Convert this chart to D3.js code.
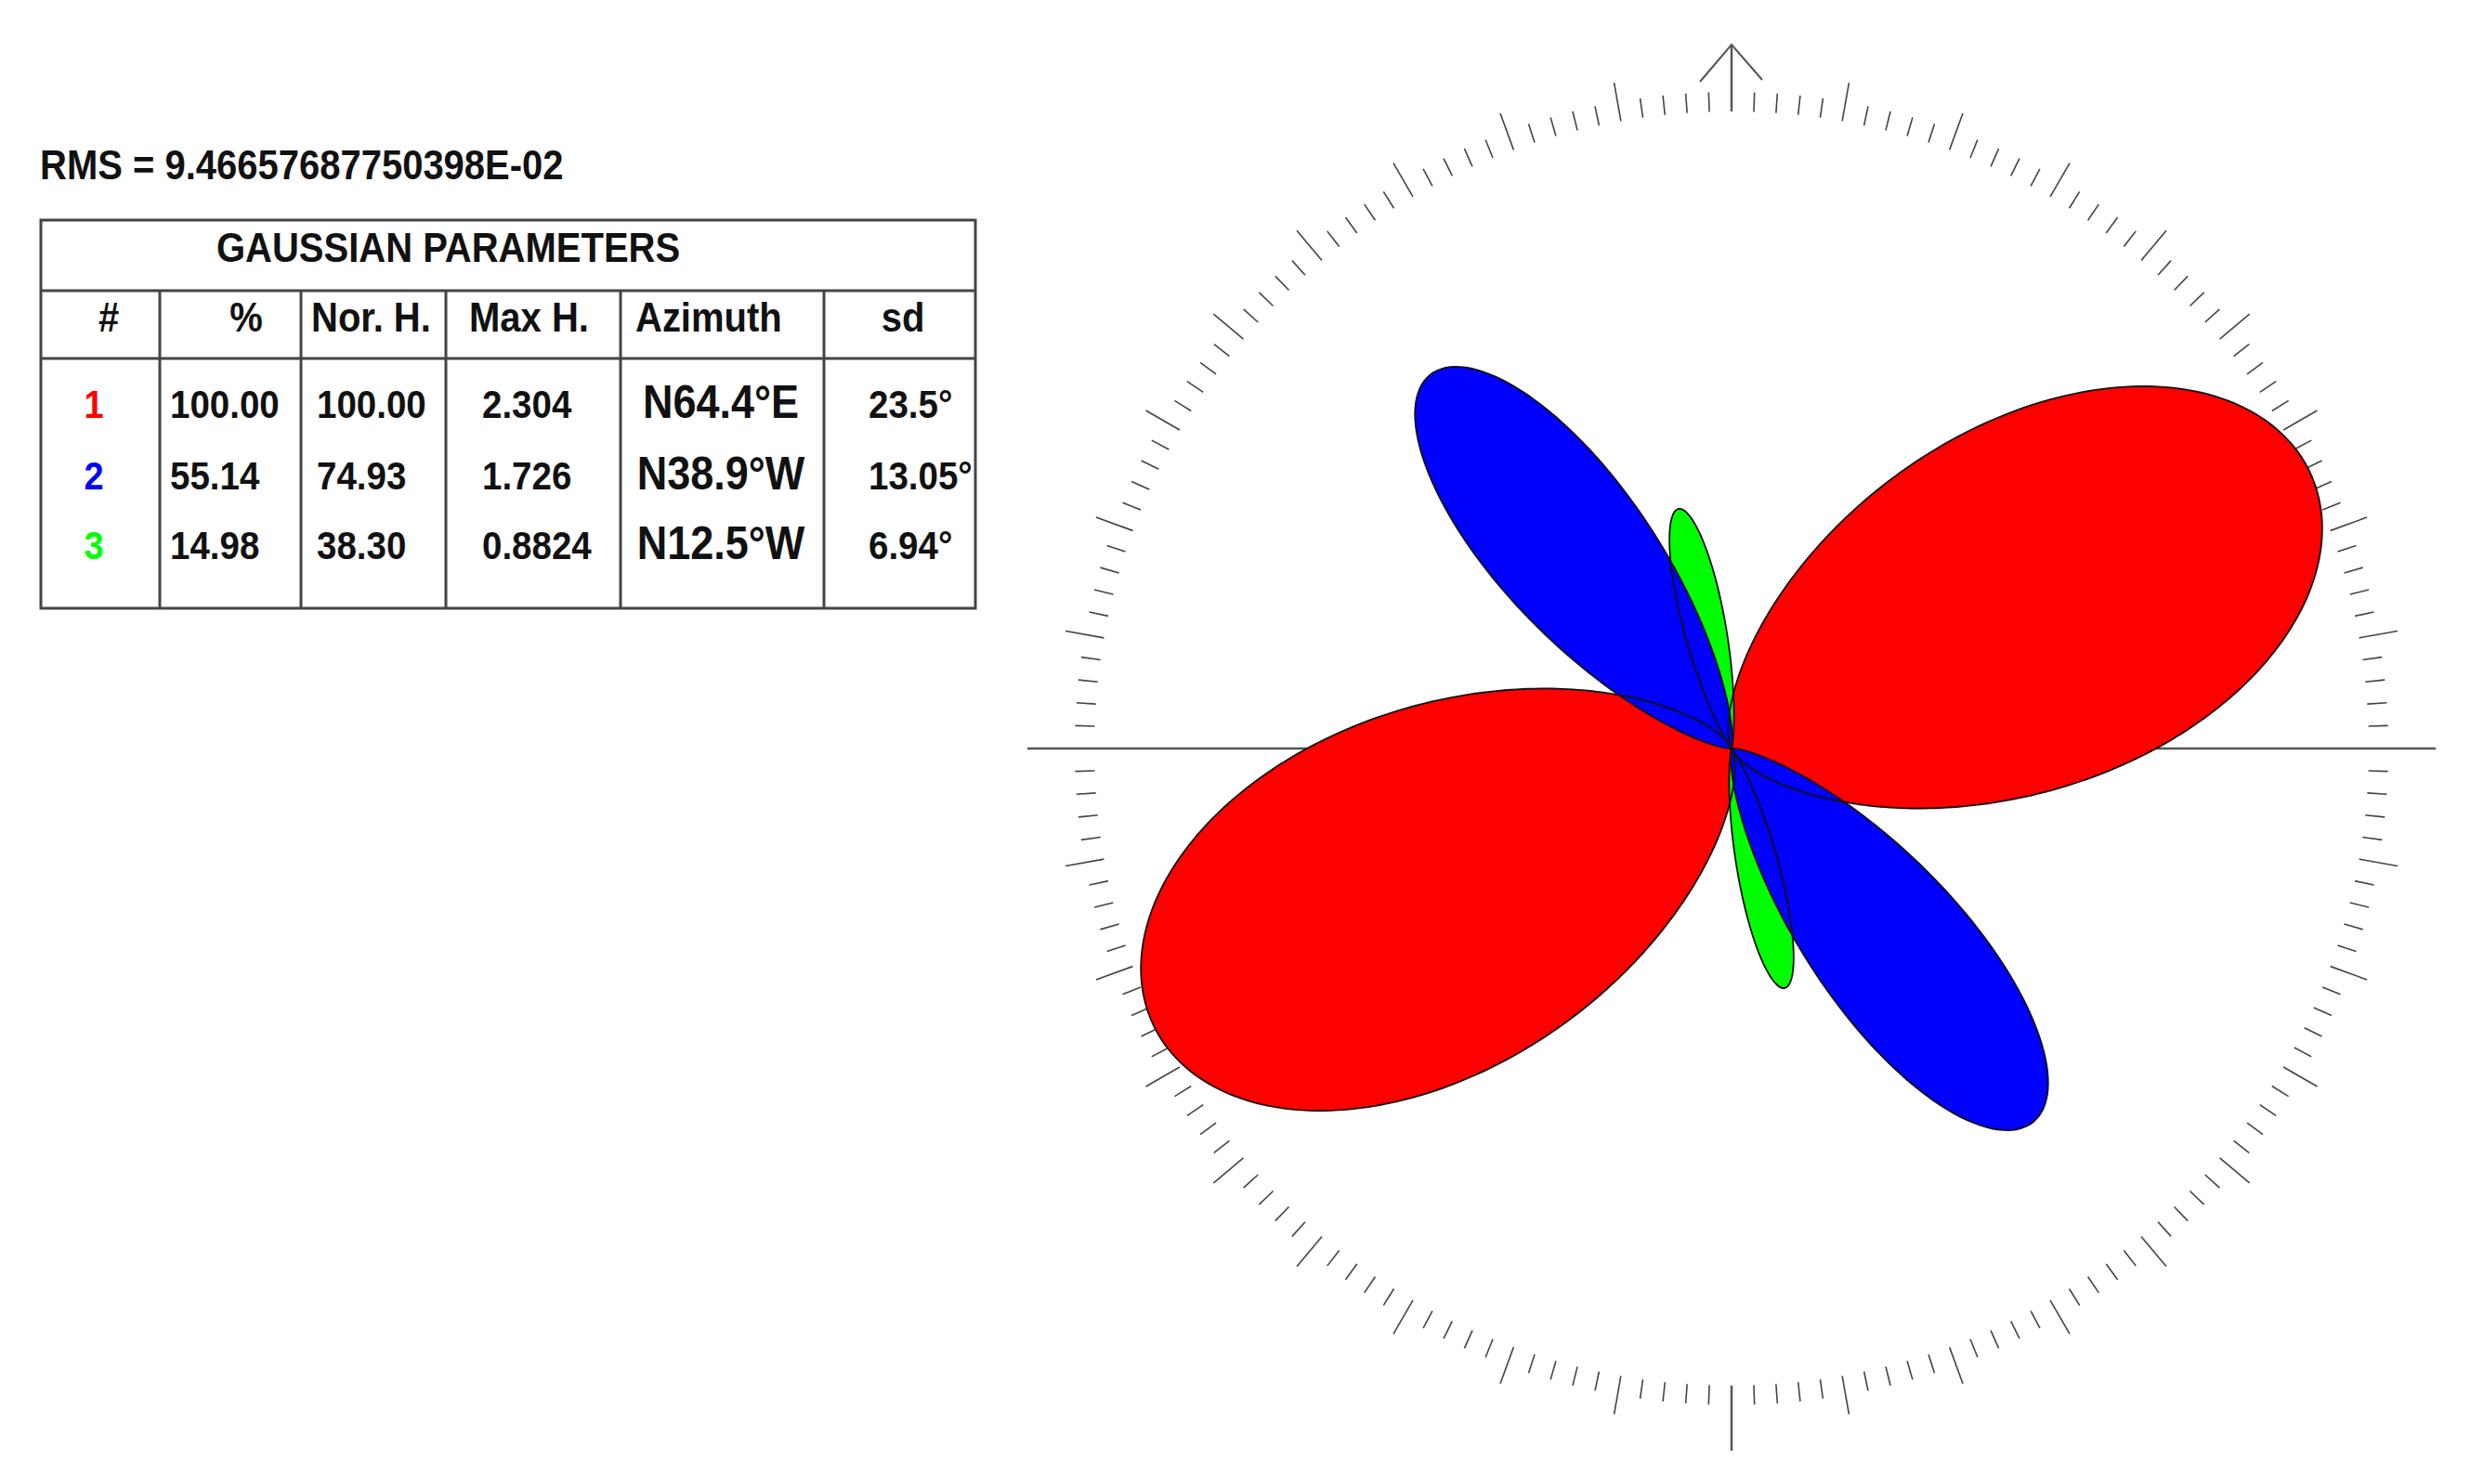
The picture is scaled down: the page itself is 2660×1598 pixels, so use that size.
<!DOCTYPE html>
<html>
<head>
<meta charset="utf-8">
<script src="https://cdn.jsdelivr.net/npm/d3@7"></script>
<style>
  html, body { margin: 0; padding: 0; background: #fff; }
  svg text { font-family: "Liberation Sans", Arial, sans-serif; font-weight: bold; fill: #111; }
</style>
</head>
<body>
<script>
// gaussian components
const compIds = ["1", "2", "3"];
const compPct = ["100.00", "55.14", "14.98"];
const compNorH = ["100.00", "74.93", "38.30"];
const compMaxH = [2.304, 1.726, 0.8824];
const compAzimuth = [64.4, -38.9, -12.5]; // degrees clockwise from north
const compAzLabels = ["N64.4°E", "N38.9°W", "N12.5°W"];
const compSd = [23.5, 13.05, 6.94];
const compSdLabels = ["23.5°", "13.05°", "6.94°"];
const compColors = ["#ff0000", "#0000ff", "#00ff00"];
const headerLabels = ["#", "%", "Nor. H.", "Max H.", "Azimuth", "sd"];
const rmsLabel = "RMS = 9.46657687750398E-02";
const tableTitle = "GAUSSIAN PARAMETERS";

function draw() {
	const W = 2660, H = 1598;
	const svg = d3.select("body").append("svg")
		.attr("width", W)
		.attr("height", H);
	svg.append("rect").attr("width", W).attr("height", H).attr("fill", "#fff");

	// ---- text + table on the left ----
	const sy = 1.1; // text in the picture is a bit taller than wide
	const txt = (x, y, s, size, anchor, color) =>
		svg.append("text")
			.attr("transform", "translate(" + x + "," + y + ") scale(1," + sy + ")")
			.attr("text-anchor", anchor || "start")
			.style("font-size", size + "px")
			.style("fill", color || "#111")
			.text(s);

	txt(43, 193, rmsLabel, 40);

	const tb = { left: 44, right: 1050, top: 237, titleBottom: 313, headBottom: 386, bottom: 655 };
	const colX = [tb.left, 172, 324, 480, 668, 887, tb.right];
	const g = svg.append("g").attr("stroke", "#444").attr("stroke-width", 3).attr("fill", "none");
	g.append("rect")
		.attr("x", tb.left).attr("y", tb.top)
		.attr("width", tb.right - tb.left).attr("height", tb.bottom - tb.top);
	g.append("line").attr("x1", tb.left).attr("x2", tb.right).attr("y1", tb.titleBottom).attr("y2", tb.titleBottom);
	g.append("line").attr("x1", tb.left).attr("x2", tb.right).attr("y1", tb.headBottom).attr("y2", tb.headBottom);
	colX.slice(1, -1).forEach((x) => {
		g.append("line").attr("x1", x).attr("x2", x).attr("y1", tb.titleBottom).attr("y2", tb.bottom);
	});

	txt(233, 282, tableTitle, 40);

	// header row
	const headY = 357;
	txt(117, headY, headerLabels[0], 40, "middle");
	txt(265, headY, headerLabels[1], 40, "middle");
	txt(335, headY, headerLabels[2], 40);
	txt(505, headY, headerLabels[3], 40);
	txt(684, headY, headerLabels[4], 40);
	txt(972, headY, headerLabels[5], 40, "middle");

	const rowY = [450, 527, 602];
	compIds.forEach((id, i) => {
		const y = rowY[i];
		txt(101, y, id, 38, "middle", compColors[i]);
		txt(183, y, compPct[i], 38.5);
		txt(341, y, compNorH[i], 38.5);
		txt(519, y, String(compMaxH[i]), 38.5);
		txt(776, y, compAzLabels[i], 45, "middle");
		txt(935, y, compSdLabels[i], 38.5);
	});

	// ---- rose diagram ----
	const cx = 1864, cy = 806;
	const rose = svg.append("g").attr("transform", "translate(" + cx + "," + cy + ")");
	const rad = (d) => d * Math.PI / 180;

	const r = d3.scaleLinear().domain([0, d3.max(compMaxH)]).range([0, 690]);
	const rTick = 686, rTickShort = 707, rTickLong = 728, rAxis = 758;

	// compass ticks every 2 degrees, longer every 10
	const tickDeg = d3.range(0, 360, 2);
	rose.append("g")
		.selectAll("line")
		.data(tickDeg)
		.enter()
		.append("line")
		.attr("x1", (d) => rTick * Math.sin(rad(d)))
		.attr("y1", (d) => -rTick * Math.cos(rad(d)))
		.attr("x2", (d) => (d % 10 === 0 ? rTickLong : rTickShort) * Math.sin(rad(d)))
		.attr("y2", (d) => -(d % 10 === 0 ? rTickLong : rTickShort) * Math.cos(rad(d)))
		.attr("stroke", "#444")
		.attr("stroke-width", 1.6);

	// E-W line, north arrow, south stub
	rose.append("line")
		.attr("x1", -rAxis).attr("x2", rAxis).attr("y1", 0).attr("y2", 0)
		.attr("stroke", "#555").attr("stroke-width", 2.5);
	rose.append("line")
		.attr("x1", 0).attr("x2", 0).attr("y1", -rTick).attr("y2", -rAxis)
		.attr("stroke", "#555").attr("stroke-width", 2.5);
	rose.append("path")
		.attr("d", "M-34," + (-rAxis + 40) + "L0," + (-rAxis) + "L33," + (-rAxis + 38))
		.attr("fill", "none").attr("stroke", "#555").attr("stroke-width", 2);
	rose.append("line")
		.attr("x1", 0).attr("x2", 0).attr("y1", rTick).attr("y2", rAxis - 2)
		.attr("stroke", "#555").attr("stroke-width", 2.5);

	// gaussian petals (axial: both ends); the drawn spread is a bit wider than sd
	const spread = 1.2;
	const deltas = d3.range(-90, 90.01, 0.5);
	const petalPts = (i) => {
		const s = compSd[i] * spread;
		const pts = [];
		[0, 180].forEach((off) => {
			deltas.forEach((dd) => {
				const v = compMaxH[i] * Math.exp(-(dd * dd) / (2 * s * s));
				pts.push({ a: rad(compAzimuth[i] + off + dd), v: v });
			});
		});
		return pts;
	};
	const petal = d3.lineRadial()
		.angle((d) => d.a)
		.radius((d) => r(d.v))
		.curve(d3.curveLinearClosed);

	// fills red, green, blue then all outlines on top
	const order = [0, 2, 1];
	const petals = rose.append("g");
	order.forEach((i) => {
		petals.append("path")
			.attr("d", petal(petalPts(i)))
			.attr("fill", compColors[i])
			.attr("stroke", "none");
	});
	order.forEach((i) => {
		petals.append("path")
			.attr("d", petal(petalPts(i)))
			.attr("fill", "none")
			.attr("stroke", "#111")
			.attr("stroke-width", 1.8);
	});
}

window.addEventListener("load", draw);
</script>
</body>
</html>
